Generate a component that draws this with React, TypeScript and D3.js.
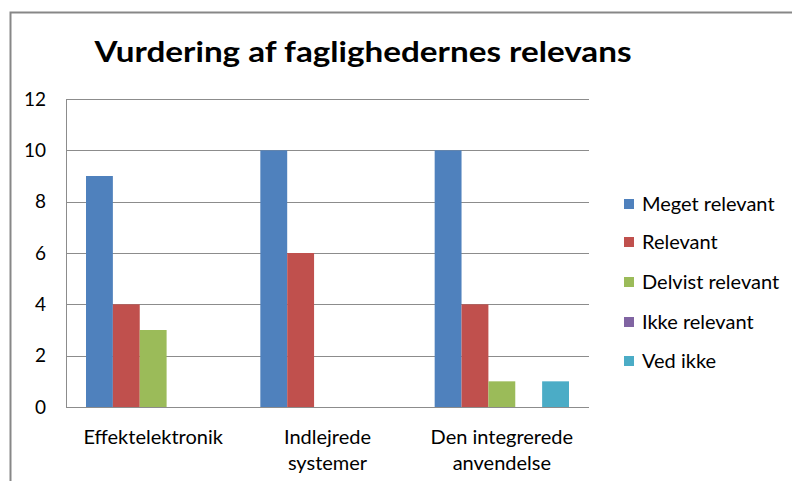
import React from "react";
import * as d3 from "d3";

const categories = [["Effektelektronik"], ["Indlejrede", "systemer"], ["Den integrerede", "anvendelse"]];
const seriesNames = ["Meget relevant", "Relevant", "Delvist relevant", "Ikke relevant", "Ved ikke"];
const seriesColors = ["#4F81BD", "#C0504D", "#9BBB59", "#8064A2", "#4BACC6"];
const megetRelevant = [9, 10, 10];
const relevant = [4, 6, 4];
const delvistRelevant = [3, 0, 1];
const ikkeRelevant = [0, 0, 0];
const vedIkke = [0, 0, 1];
const yTicks = [0, 2, 4, 6, 8, 10, 12];
const title = "Vurdering af faglighedernes relevans";

const seriesValues = [megetRelevant, relevant, delvistRelevant, ikkeRelevant, vedIkke];

export default function App() {
  const W = 792, H = 481;
  const left = 66, right = 589, top = 99, bottom = 407;
  const font = "Lato, 'Open Sans', sans-serif";
  const y = d3.scaleLinear().domain([0, 12]).range([bottom, top]);
  const x0 = d3.scaleBand<number>().domain(categories.map((_, i) => i)).range([left, right]).paddingInner(0).paddingOuter(0);
  const groupPad = 20;
  const x1 = d3.scaleBand<number>().domain(seriesNames.map((_, i) => i)).range([groupPad, x0.bandwidth() - groupPad]);
  const legendY = [204, 242, 282, 322, 361];
  return (
    <svg width={W} height={H} style={{ position: "absolute", left: 0, top: 0 }}>
      <rect x={0} y={0} width={W} height={H} fill="#fff" />
      <path d={`M10.5,${H} V12.5 H${W}`} fill="none" stroke="#878787" strokeWidth={2} />
      <text x={363} y={62} textAnchor="middle" fontFamily={font} fontWeight={700} fontSize={29} fill="#000" textLength={537} lengthAdjust="spacingAndGlyphs">{title}</text>
      {yTicks.map((t) => (
        <g key={t}>
          <line x1={left} x2={right} y1={Math.round(y(t)) + 0.5} y2={Math.round(y(t)) + 0.5} stroke="#8c8c8c" strokeWidth={1} />
          <text x={46} y={y(t) + 6.5} textAnchor="end" fontFamily={font} fontSize={19} fill="#000">{t}</text>
        </g>
      ))}
      <line x1={left + 0.5} x2={left + 0.5} y1={top} y2={bottom} stroke="#8c8c8c" strokeWidth={1} />
      {categories.map((c, ci) => (
        <g key={ci}>
          {seriesValues.map((vals, si) => {
            const v = vals[ci];
            if (v <= 0) return null;
            const bx = (x0(ci) as number) + (x1(si) as number);
            return <rect key={si} x={bx} y={y(v)} width={x1.bandwidth()} height={bottom - y(v)} fill={seriesColors[si]} />;
          })}
          {c.map((line, li) => (
            <text key={li} x={(x0(ci) as number) + x0.bandwidth() / 2} y={444 + li * 26} textAnchor="middle" fontFamily={font} fontSize={20} fill="#000">{line}</text>
          ))}
        </g>
      ))}
      {seriesNames.map((n, i) => (
        <g key={n}>
          <rect x={624} y={legendY[i] - 5} width={10} height={10} fill={seriesColors[i]} />
          <text x={642} y={legendY[i] + 6.5} fontFamily={font} fontSize={20} fill="#000">{n}</text>
        </g>
      ))}
    </svg>
  );
}
